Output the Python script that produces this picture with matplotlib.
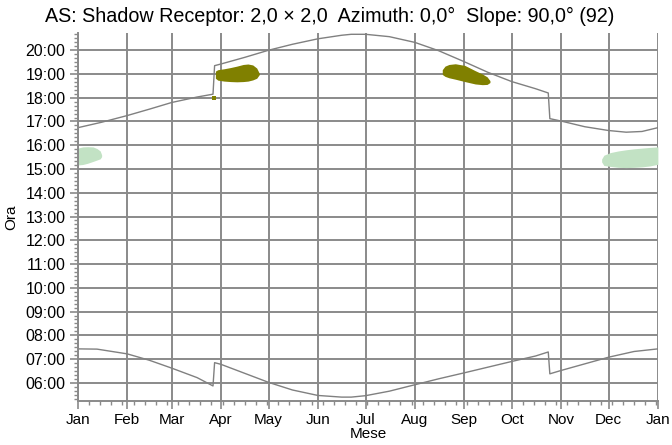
import numpy as np
import matplotlib.pyplot as plt
from matplotlib.ticker import FixedLocator, FuncFormatter, MultipleLocator

plt.rcParams["font.family"] = ["Liberation Sans", "DejaVu Sans"]

# giorno dell'anno (0 = 1 gennaio) e ora in ore decimali
mesi = ["Jan", "Feb", "Mar", "Apr", "May", "Jun", "Jul",
        "Aug", "Sep", "Oct", "Nov", "Dec", "Jan"]
inizio_mese = [0, 31, 59, 90, 120, 151, 181, 212, 243, 273, 304, 334, 365]

# tramonto (ora legale da fine marzo a fine ottobre)
giorni_tramonto = [0, 15, 31, 45, 59, 75, 85, 86, 90, 105, 120, 135, 151, 166,
                   172, 181, 196, 212, 227, 243, 258, 273, 288, 296, 297, 304,
                   319, 334, 345, 355, 365]
ora_tramonto = [16.74, 16.97, 17.25, 17.52, 17.80, 18.03, 18.15, 19.35, 19.42,
                19.70, 20.00, 20.25, 20.48, 20.63, 20.67, 20.67, 20.57, 20.33,
                19.98, 19.52, 19.07, 18.68, 18.38, 18.20, 17.12, 17.02, 16.78,
                16.62, 16.55, 16.58, 16.74]

# alba
giorni_alba = [0, 12, 31, 45, 59, 75, 85, 86, 90, 105, 120, 135, 151, 166, 172,
               181, 196, 212, 227, 243, 258, 273, 288, 296, 297, 304, 319, 334,
               350, 365]
ora_alba = [7.43, 7.42, 7.22, 6.95, 6.62, 6.22, 5.87, 6.85, 6.78, 6.40, 6.02,
            5.70, 5.47, 5.40, 5.40, 5.46, 5.65, 5.92, 6.17, 6.42, 6.66, 6.90,
            7.13, 7.30, 6.38, 6.52, 6.80, 7.08, 7.32, 7.43]

# periodi di ombra (inizio/fine per giorno)
apr_giorni = [86.5, 88, 92, 96, 100, 104, 107, 110, 112.5, 114.2]
apr_sopra = [19.12, 19.18, 19.22, 19.27, 19.33, 19.40, 19.42, 19.38, 19.25, 19.02]
apr_sotto = [18.82, 18.74, 18.70, 18.68, 18.67, 18.68, 18.70, 18.75, 18.82, 18.98]

set_giorni = [229.3, 231, 233.5, 237.5, 243.5, 250, 254.5, 257.5, 259.3]
set_sopra = [19.18, 19.33, 19.40, 19.43, 19.36, 19.14, 19.00, 18.88, 18.72]
set_sotto = [18.98, 18.90, 18.84, 18.78, 18.68, 18.58, 18.55, 18.56, 18.64]

punto_giorno = [85.5]
punto_ora = [17.98]

gen_giorni = [0, 3, 6, 9.5, 12, 14, 14.9]
gen_sopra = [15.88, 15.93, 15.94, 15.93, 15.86, 15.76, 15.60]
gen_sotto = [15.17, 15.19, 15.24, 15.32, 15.38, 15.43, 15.52]

dic_giorni = [329.6, 331, 335, 340, 345, 350, 355, 360, 365]
dic_sopra = [15.42, 15.58, 15.69, 15.76, 15.81, 15.85, 15.88, 15.91, 15.93]
dic_sotto = [15.30, 15.15, 15.11, 15.07, 15.06, 15.07, 15.09, 15.13, 15.20]

grigio = "#8a8a8a"
oliva = "#808000"
verde = "#c2e2c4"

fig = plt.figure(figsize=(6.72, 4.45), dpi=100)
ax = fig.add_axes([0.116, 0.0996, 0.863, 0.826])

ax.fill_between(gen_giorni, gen_sotto, gen_sopra, color=verde, lw=0)
ax.fill_between(dic_giorni, dic_sotto, dic_sopra, color=verde, lw=0)
ax.fill_between(apr_giorni, apr_sotto, apr_sopra, color=oliva, lw=0)
ax.fill_between(set_giorni, set_sotto, set_sopra, color=oliva, lw=0)
ax.plot(punto_giorno, punto_ora, "s", color=oliva, ms=2.5, mew=0)

ax.plot(giorni_tramonto, ora_tramonto, color="#808080", lw=1.0)
ax.plot(giorni_alba, ora_alba, color="#808080", lw=1.0)

ax.set_xlim(0, 365)
ax.set_ylim(5.25, 20.72)

ax.xaxis.set_major_locator(FixedLocator(inizio_mese))
ax.set_xticklabels(mesi)
ax.xaxis.set_minor_locator(MultipleLocator(7))
ax.yaxis.set_major_locator(FixedLocator(range(6, 21)))
ax.yaxis.set_major_formatter(FuncFormatter(lambda v, p: "%02d:00" % int(round(v))))
ax.yaxis.set_minor_locator(MultipleLocator(1 / 6))

ax.tick_params(which="both", direction="out", colors=grigio, labelcolor="black")
ax.tick_params(axis="x", labelsize=11)
ax.tick_params(axis="y", labelsize=11.5)
ax.tick_params(which="major", length=6, width=1.2, pad=3)
ax.tick_params(which="minor", length=3, width=1.0)

ax.grid(True, which="major", color=grigio, lw=1.4)
ax.set_axisbelow(True)
for s in ["top", "right"]:
    ax.spines[s].set_visible(False)
for s in ["left", "bottom"]:
    ax.spines[s].set_color(grigio)
    ax.spines[s].set_linewidth(1.4)

ax.set_xlabel("Mese", fontsize=11, labelpad=0)
ax.set_ylabel("Ora", fontsize=11, labelpad=5)
fig.suptitle("AS: Shadow Receptor: 2,0 × 2,0  Azimuth: 0,0°  Slope: 90,0° (92)",
             fontsize=14.2, x=0.49, y=0.985)

fig.savefig("out.png", dpi=100)
